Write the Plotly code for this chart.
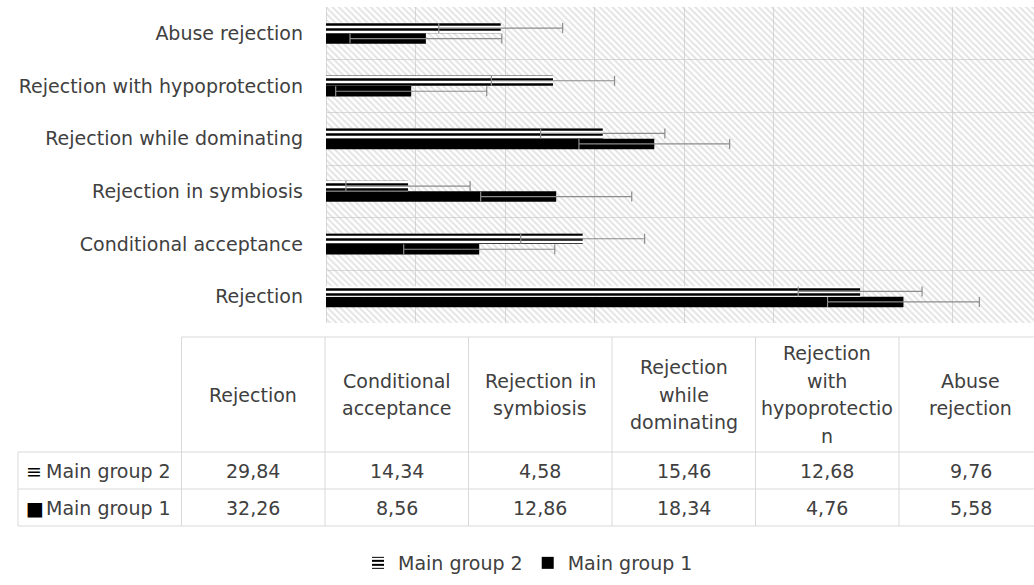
import plotly.graph_objects as go

# ---------------- data ----------------
categories = ["Rejection", "Conditional acceptance", "Rejection in symbiosis",
              "Rejection while dominating", "Rejection with hypoprotection", "Abuse rejection"]
header_labels = [["Rejection"], ["Conditional", "acceptance"], ["Rejection in", "symbiosis"],
                 ["Rejection", "while", "dominating"], ["Rejection", "with", "hypoprotectio", "n"],
                 ["Abuse", "rejection"]]
series_names = ["Main group 2", "Main group 1"]
group2 = [29.84, 14.34, 4.58, 15.46, 12.68, 9.76]
group1 = [32.26, 8.56, 12.86, 18.34, 4.76, 5.58]
err2 = [3.46, 3.46, 3.47, 3.47, 3.44, 3.46]
err1 = [4.24, 4.22, 4.22, 4.21, 4.22, 4.24]
table_keys = ["\u2261", "\u25A0"]

# ---------------- layout helpers (pixel -> paper) ----------------
W, H = 1034, 585
L, R, T, B = 326, 1034, 7, 323
PX_PER_UNIT = 17.9


def px(x):
    return (x - L) / (R - L)


def py(y):
    return (B - y) / (B - T)


FONT = "DejaVu Sans"
TXT = "#404040"
GRID = "#d9d9d9"
FS = 19
LINE_H = 27.5

fig = go.Figure()

# background hatch (base axes, drawn below the bars)
fig.add_trace(go.Scatter(
    x=[0, 1, 1, 0, 0], y=[0, 0, 1, 1, 0], xaxis="x", yaxis="y",
    mode="none", fill="toself", fillcolor="rgba(0,0,0,0)",
    fillpattern=dict(shape="\\", fgcolor="#c8c8c8", bgcolor="rgba(0,0,0,0)",
                     size=4.5, solidity=0.45),
    showlegend=False, hoverinfo="skip"))

# bars (overlay axes)
fig.add_trace(go.Bar(
    y=categories, x=group1, orientation="h", name=series_names[1],
    xaxis="x2", yaxis="y2",
    marker=dict(color="#000000", line=dict(width=0)),
    error_x=dict(type="data", array=err1, color="#8c8c8c", thickness=1.2, width=5),
    legendrank=2))
fig.add_trace(go.Bar(
    y=categories, x=group2, orientation="h", name=series_names[0],
    xaxis="x2", yaxis="y2",
    marker=dict(color="#ffffff", line=dict(width=0),
                pattern=dict(shape="-", fgcolor="#000000", bgcolor="#ffffff",
                             size=5, solidity=0.5, fillmode="replace")),
    error_x=dict(type="data", array=err2, color="#8c8c8c", thickness=1.2, width=5),
    legendrank=1))

shapes = []
annotations = []

# table grid lines
col_edges = [181.5, 325, 468.5, 612, 755.5, 899, 1042.5]
row_top, head_bot, r1_bot, r2_bot = 337, 452, 489, 526
left_edge = 18


def hline(y, x0, x1):
    shapes.append(dict(type="line", xref="paper", yref="paper",
                       x0=px(x0), x1=px(x1), y0=py(y), y1=py(y),
                       line=dict(color=GRID, width=1)))


def vline(x, y0, y1):
    shapes.append(dict(type="line", xref="paper", yref="paper",
                       x0=px(x), x1=px(x), y0=py(y0), y1=py(y1),
                       line=dict(color=GRID, width=1)))


hline(row_top, col_edges[0], 1050)
for yy in (head_bot, r1_bot, r2_bot):
    hline(yy, left_edge, 1050)
vline(left_edge, head_bot, r2_bot)
for xx in col_edges:
    vline(xx, row_top, r2_bot)

# header text (one annotation per wrapped line)
head_cy = (row_top + head_bot) / 2
for i, lines in enumerate(header_labels):
    cx = (col_edges[i] + col_edges[i + 1]) / 2
    n = len(lines)
    for k, ln in enumerate(lines):
        cy = head_cy + (k - (n - 1) / 2) * LINE_H
        annotations.append(dict(xref="paper", yref="paper", x=px(cx), y=py(cy),
                                text=ln, showarrow=False, xanchor="center", yanchor="middle",
                                font=dict(family=FONT, size=FS, color=TXT)))

# data rows
rows = [(series_names[0], table_keys[0], group2, (head_bot + r1_bot) / 2),
        (series_names[1], table_keys[1], group1, (r1_bot + r2_bot) / 2)]
for name, key, vals, cy in rows:
    annotations.append(dict(xref="paper", yref="paper", x=px(left_edge + 6), y=py(cy),
                            text=key, showarrow=False, xanchor="left", yanchor="middle",
                            font=dict(family=FONT, size=FS, color="#000000")))
    annotations.append(dict(xref="paper", yref="paper", x=px(left_edge + 26), y=py(cy),
                            text=name, showarrow=False, xanchor="left", yanchor="middle",
                            font=dict(family=FONT, size=FS, color=TXT)))
    for i, v in enumerate(vals):
        cx = (col_edges[i] + col_edges[i + 1]) / 2
        annotations.append(dict(xref="paper", yref="paper", x=px(cx), y=py(cy),
                                text=f"{v:.2f}".replace(".", ","), showarrow=False,
                                xanchor="center", yanchor="middle",
                                font=dict(family=FONT, size=FS, color=TXT)))

fig.update_layout(
    width=W, height=H,
    margin=dict(l=L, r=W - R, t=T, b=H - B, pad=0),
    paper_bgcolor="#ffffff", plot_bgcolor="#ffffff",
    barmode="group", bargap=0.6, bargroupgap=0,
    font=dict(family=FONT, size=FS, color=TXT),
    xaxis=dict(range=[0, 1], visible=False, fixedrange=True),
    yaxis=dict(range=[0, 1], visible=False, fixedrange=True),
    xaxis2=dict(overlaying="x", range=[0, (R - L) / PX_PER_UNIT], showgrid=True,
                gridcolor=GRID, gridwidth=1, dtick=5, showticklabels=False,
                zeroline=True, zerolinecolor=GRID, zerolinewidth=1, ticks=""),
    yaxis2=dict(overlaying="y", type="category", categoryorder="array",
                categoryarray=categories, tickson="boundaries", showgrid=True,
                gridcolor=GRID, gridwidth=1, ticks="", ticklabelstandoff=22,
                tickfont=dict(family=FONT, size=FS, color=TXT)),
    legend=dict(orientation="h", x=px(528), xanchor="center", y=py(563), yanchor="middle",
                font=dict(family=FONT, size=FS, color=TXT), bgcolor="rgba(0,0,0,0)",
                itemwidth=30, tracegroupgap=0),
    shapes=shapes, annotations=annotations,
)

fig.write_html("out.html", config={"displayModeBar": False},
               post_script="document.body.style.margin='0px';")
